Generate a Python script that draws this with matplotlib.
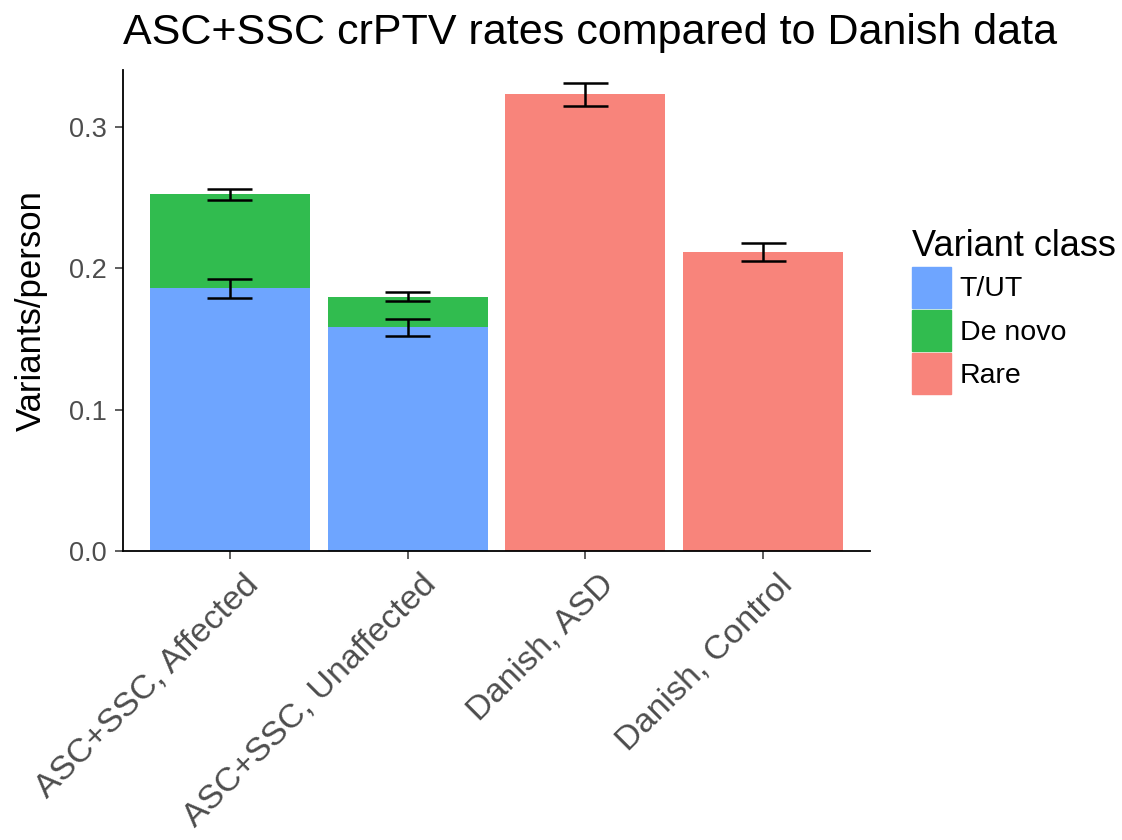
import numpy as np
from matplotlib import pyplot as plt
from matplotlib.patches import Patch
from matplotlib.transforms import ScaledTranslation

plt.rcParams['font.family'] = ['Liberation Sans', 'DejaVu Sans']

groups = ['ASC+SSC, Affected', 'ASC+SSC, Unaffected', 'Danish, ASD', 'Danish, Control']
tut = [0.1857, 0.1584, 0.0, 0.0]
denovo = [0.0664, 0.0214, 0.0, 0.0]
rare = [0.0, 0.0, 0.3227, 0.2112]
err_tut = [0.0066, 0.0060, 0.0, 0.0]
err_total = [0.0039, 0.0032, 0.0082, 0.0064]

c_tut = '#6EA5FF'
c_dn = '#31BC4F'
c_rare = '#F8847B'

fig = plt.figure(figsize=(11.22, 8.4), dpi=100)
ax = fig.add_axes([0.1096, 0.3435, 0.6658, 0.5732])

x = np.arange(len(groups))
tut = np.array(tut)
denovo = np.array(denovo)
rare = np.array(rare)
ax.bar(x, tut, 0.9, color=c_tut, zorder=2)
ax.bar(x, denovo, 0.9, bottom=tut, color=c_dn, zorder=2)
ax.bar(x, rare, 0.9, bottom=tut + denovo, color=c_rare, zorder=2)

# error bars: total height for all, T/UT part for the stacked ones
total = tut + denovo + rare
cap = 0.125
for i in range(len(groups)):
    segs = [(total[i], err_total[i])]
    if tut[i] > 0:
        segs.append((tut[i], err_tut[i]))
    for y, e in segs:
        ax.vlines(x[i], y - e, y + e, color='black', lw=1.8, zorder=3)
        ax.hlines([y - e, y + e], x[i] - cap, x[i] + cap, color='black', lw=1.8, zorder=3)

ax.set_xlim(-0.6, 3.6)
ax.set_ylim(0, 0.34)
ax.set_yticks([0.0, 0.1, 0.2, 0.3])
ax.set_yticklabels(['0.0', '0.1', '0.2', '0.3'])
ax.set_xticks(x)
ax.set_xticklabels(groups, rotation=45, ha='right', va='top', rotation_mode='anchor')

for s in ['top', 'right']:
    ax.spines[s].set_visible(False)
for s in ['left', 'bottom']:
    ax.spines[s].set_linewidth(1.3)
    ax.spines[s].set_color('black')

ax.tick_params(axis='both', length=5.5, width=1.1, color='#333333', labelcolor='#4D4D4D')
ax.tick_params(axis='y', labelsize=19.5, pad=6)
ax.tick_params(axis='x', labelsize=24.5, pad=7)
shift = ScaledTranslation(0.13, 0, fig.dpi_scale_trans)
for lab in ax.get_xticklabels():
    lab.set_transform(lab.get_transform() + shift)

ax.set_ylabel('Variants/person', fontsize=25, color='black', labelpad=15)
ax.set_title('ASC+SSC crPTV rates compared to Danish data', fontsize=31,
             loc='left', pad=19)

handles = [Patch(color=c_tut, label='T/UT'),
           Patch(color=c_dn, label='De novo'),
           Patch(color=c_rare, label='Rare')]
leg = ax.legend(handles=handles, title='Variant class', loc='upper left',
                bbox_to_anchor=(0.8, 0.744), bbox_transform=fig.transFigure,
                frameon=False, fontsize=20.5, title_fontsize=26, borderpad=0,
                handlelength=1.38, handleheight=1.84, labelspacing=0.08,
                handletextpad=0.3, alignment='left')

plt.savefig('out.png', dpi=100)
